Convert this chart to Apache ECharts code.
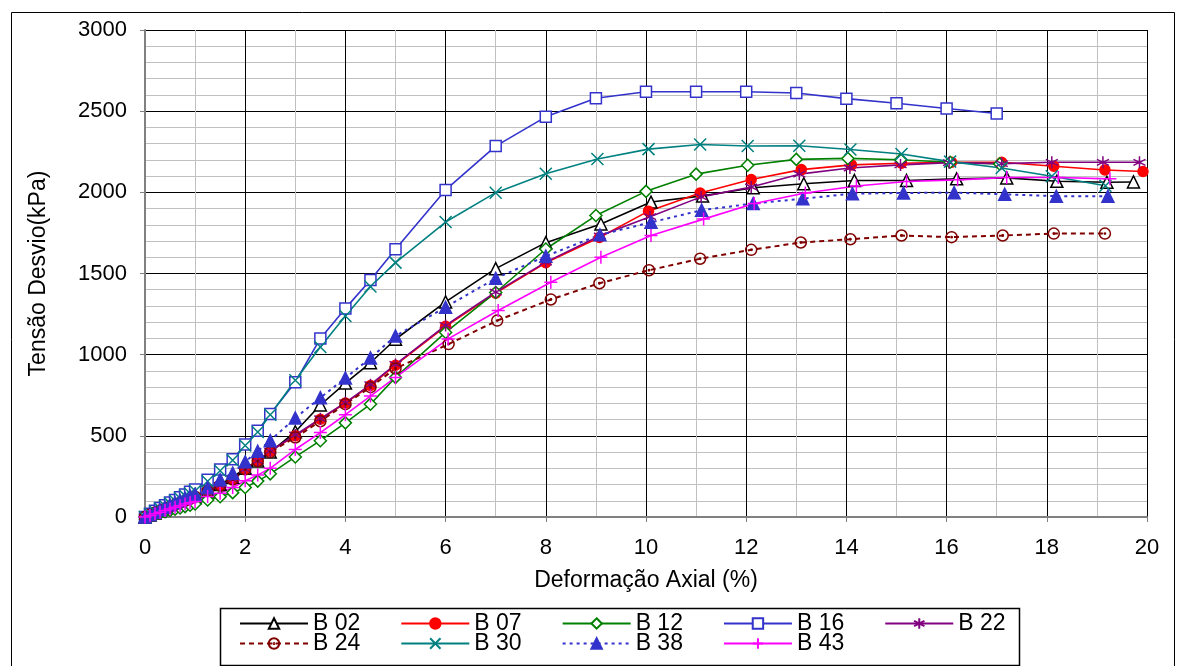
<!DOCTYPE html>
<html><head><meta charset="utf-8">
<script src="https://cdn.jsdelivr.net/npm/echarts@6/dist/echarts.min.js"></script>
<style>html,body{margin:0;padding:0;background:#fff}#c{width:1180px;height:666px}</style>
</head><body><div id="c"></div>
<script>
// ---- data (strain %, deviator stress kPa) ----
const lowX = [0,0.1,0.2,0.3,0.4,0.5,0.6,0.7,0.8,0.9,1.0,1.25,1.5,1.75,2.0,2.25,2.5,3,3.5,4,4.5];
const b02X = lowX.concat([5,6,7,8,9.1,10.1,11.13,12.14,13.15,14.16,15.2,16.2,17.2,18.2,19.2,19.73]);
const b02Y = [0,12,25,38,50,62,75,87,98,110,120,160,200,245,300,345,400,525,690,825,950,1095,1325,1530,1690,1805,1940,1978,2028,2053,2073,2073,2083,2089,2068,2062,2064];
const b07X = lowX.concat([5,6,7,8,9.07,10.05,11.08,12.1,13.1,14.1,15.1,16.1,17.1,18.14,19.16,19.92]);
const b07Y = [0,15,28,40,52,64,76,88,100,112,125,160,194,231,293,344,406,500,602,702,810,935,1175,1379,1566,1722,1884,1996,2079,2140,2169,2179,2185,2185,2161,2138,2128];
const b12X = lowX.concat([5,6,7,8,9,10,11,12.03,13,14.03,15.08,16.07,17.06]);
const b12Y = [0,8,16,24,32,40,48,56,64,72,80,105,125,150,182,221,266,370,470,580,695,860,1137,1383,1651,1857,2006,2112,2167,2203,2209,2201,2185,2175];
const b16X = lowX.concat([5,6,7,8,9,10,11,12,13,14,15,16,17]);
const b16Y = [0,20,38,55,72,90,105,122,138,155,170,230,293,355,447,532,635,830,1100,1285,1460,1650,2015,2285,2465,2580,2620,2620,2620,2612,2577,2549,2516,2486];
const b22X = lowX.concat([5,6,7,8,9.08,10.08,11.1,12.1,13.06,14.07,15.08,16.05,17.1,18.1,19.12,19.85]);
const b22Y = [0,15,28,40,52,64,76,88,100,112,125,160,194,231,293,344,406,505,605,705,815,940,1180,1385,1570,1732,1850,1972,2033,2112,2150,2169,2183,2177,2185,2185,2185];
const b24X = lowX.concat([5,6.06,7.03,8.1,9.07,10.06,11.08,12.1,13.09,14.08,15.1,16.1,17.12,18.14,19.16]);
const b24Y = [0,15,28,40,52,64,76,88,100,112,125,160,194,231,293,344,400,490,590,695,800,915,1065,1210,1340,1440,1520,1591,1646,1691,1711,1734,1724,1734,1746,1746];
const b30X = lowX.concat([5,6,7,8,9.03,10.05,11.08,12.03,13.06,14.08,15.1,16.07,17.1,18.1,19.17]);
const b30Y = [0,18,35,52,68,84,100,115,130,145,160,220,285,350,440,524,630,842,1047,1238,1420,1567,1817,1998,2115,2205,2266,2295,2285,2287,2264,2236,2189,2150,2099,2041];
const b38X = lowX.concat([5,6,7,8,9.08,10.1,11.11,12.14,13.13,14.12,15.14,16.15,17.16,18.19,19.22]);
const b38Y = [0,15,30,45,60,75,88,100,115,128,140,180,230,270,340,405,470,610,735,856,980,1115,1292,1470,1607,1738,1815,1890,1931,1961,1992,1996,1998,1988,1976,1976];
const b43X = lowX.concat([5,6.05,7.05,8.1,9.1,10.1,11.15,12.16,13.18,14.2,15.2,16.22,17.2,18.23,19.26]);
const b43Y = [0,10,20,30,40,50,60,70,80,88,95,126,147,182,223,258,300,416,520,630,745,860,1097,1272,1446,1600,1734,1835,1931,1996,2039,2067,2077,2091,2091,2083];
const names = ['B 02','B 07','B 12','B 16','B 22','B 24','B 30','B 38','B 43'];
const xTicks = [0,2,4,6,8,10,12,14,16,18,20];
const yTicks = [0,500,1000,1500,2000,2500,3000];

const pair = (xs, ys) => xs.map((x, i) => [x, ys[i]]);
const FONT = 'Liberation Sans';
const P_AST = 'path://M5,0L5,10M0.7,2.5L9.3,7.5M9.3,2.5L0.7,7.5';
const P_X = 'path://M0,0L10,10M10,0L0,10';
const P_PLUS = 'path://M5,0L5,10M0,5L10,5';
const P_CDOT = 'path://M10,5A5,5,0,1,1,0,5A5,5,0,1,1,10,5ZM5.6,5A0.6,0.6,0,1,1,4.4,5A0.6,0.6,0,1,1,5.6,5Z';

function mk(name, data, color, symbol, size, fill, dash, lw) {
  return {
    name, type: 'line', data, symbol, symbolSize: size,
    lineStyle: { color, width: lw || 1.6, type: dash || 'solid' },
    itemStyle: { color: fill, borderColor: color, borderWidth: 1.5 },
    emphasis: { disabled: true }, animation: false
  };
}
const series = [
  mk(names[0], pair(b02X, b02Y), '#000000', 'triangle', 12, '#ffffff'),
  mk(names[1], pair(b07X, b07Y), '#ff0000', 'circle', 10, '#ff0000'),
  mk(names[2], pair(b12X, b12Y), '#008000', 'diamond', 12, '#ffffff'),
  mk(names[3], pair(b16X, b16Y), '#3333cc', 'rect', 11, '#ffffff'),
  mk(names[4], pair(b22X, b22Y), '#800080', P_AST, 12, 'rgba(0,0,0,0)'),
  mk(names[5], pair(b24X, b24Y), '#800000', P_CDOT, 11, 'rgba(0,0,0,0)', [5, 4], 2),
  mk(names[6], pair(b30X, b30Y), '#008080', P_X, 12, 'rgba(0,0,0,0)'),
  mk(names[7], pair(b38X, b38Y), '#3333cc', 'triangle', 12, '#3333cc', [3, 4], 2),
  mk(names[8], pair(b43X, b43Y), '#ff00ff', P_PLUS, 13, 'rgba(0,0,0,0)')
];

const legendBase = {
  orient: 'horizontal', itemWidth: 68, itemHeight: 13, itemGap: 40, padding: 0,
  textStyle: { fontFamily: FONT, fontSize: 23, color: '#000' },
  selectedMode: false
};
const chart = echarts.init(document.getElementById('c'), null, { renderer: 'canvas' });
chart.setOption({
  backgroundColor: '#ffffff',
  animation: false,
  grid: { left: 145, right: 33, top: 30, bottom: 149, show: false },
  graphic: [
    { type: 'rect', left: 9, top: 10, shape: { width: 1163, height: 655 }, style: { fill: 'none', stroke: '#000', lineWidth: 1 }, silent: true },
    { type: 'rect', left: 218, top: 606, shape: { width: 799, height: 57 }, style: { fill: 'none', stroke: '#000', lineWidth: 1.5 }, silent: true }
  ],
  legend: [
    Object.assign({}, legendBase, { data: names.slice(0, 5), left: 239, top: 612 }),
    Object.assign({}, legendBase, { data: names.slice(5), left: 239, top: 632 })
  ],
  xAxis: {
    type: 'value', min: xTicks[0], max: xTicks[xTicks.length - 1], interval: 2,
    name: 'Deformação Axial (%)', nameLocation: 'middle', nameGap: 52,
    nameTextStyle: { fontFamily: FONT, fontSize: 23, color: '#000' },
    axisLine: { onZero: false, lineStyle: { color: '#808080', width: 2 } },
    axisTick: { show: true, length: 5, lineStyle: { color: '#808080' } },
    axisLabel: { fontFamily: FONT, fontSize: 22, color: '#000', margin: 20, formatter: v => String(v) },
    splitLine: { show: true, lineStyle: { color: '#000', width: 1 } },
    minorTick: { show: false, splitNumber: 2 },
    minorSplitLine: { show: true, lineStyle: { color: '#c0c0c0', width: 1 } }
  },
  yAxis: {
    type: 'value', min: yTicks[0], max: yTicks[yTicks.length - 1], interval: 500,
    name: 'Tensão Desvio(kPa)', nameLocation: 'middle', nameGap: 95, nameRotate: 90,
    nameTextStyle: { fontFamily: FONT, fontSize: 23, color: '#000' },
    axisLine: { show: true, onZero: false, lineStyle: { color: '#808080', width: 2 } },
    axisTick: { show: true, length: 5, lineStyle: { color: '#808080' } },
    axisLabel: { fontFamily: FONT, fontSize: 22, color: '#000', margin: 18, formatter: v => String(v) },
    splitLine: { show: true, lineStyle: { color: '#000', width: 1 } },
    minorTick: { show: false, splitNumber: 5 },
    minorSplitLine: { show: true, lineStyle: { color: '#c0c0c0', width: 1 } }
  },
  series
});
</script></body></html>
